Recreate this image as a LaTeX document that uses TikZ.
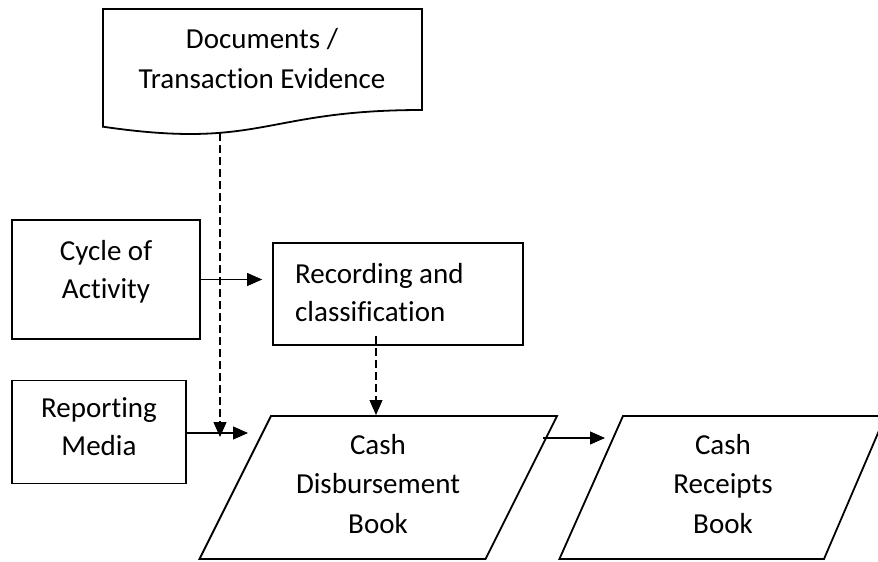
\documentclass[tikz,border=0pt]{standalone}
\usepackage{fontspec}
\setmainfont{Carlito}[Ligatures=NoCommon]
\usetikzlibrary{arrows.meta}
\begin{document}
\begin{tikzpicture}[x=1pt,y=-1pt,
  box/.style={draw, line width=1.8pt, rectangle, inner sep=0pt},
  shp/.style={draw, line width=1.8pt, line join=miter},
  txt/.style={inner sep=0pt, anchor=base, font=\fontsize{29}{38}\selectfont},
  txtd/.style={txt, font=\fontsize{29}{40}\selectfont},
  txtc/.style={txt, font=\fontsize{29}{39.5}\selectfont},
  flow/.style={line width=1.2pt, -{Triangle[length=15pt,width=13pt]}},
  dflow/.style={flow, dash pattern=on 8pt off 4pt}
]
\path[fill=white] (0,0) rectangle (878,562);
\useasboundingbox (0,0) rectangle (878,562);

% Documents / Transaction Evidence
\draw[shp] (103,9) -- (422,9) -- (422,110) .. controls (262.5,110) and (262.5,150) .. (103,126.7) -- cycle;
\coordinate (docb) at (220,133);
\node[txtd] (doct) at (262,48) {\begin{tabular}[t]{@{}c@{}}Documents /\\Transaction Evidence\end{tabular}};

% Cycle of Activity
\node[box, minimum width=188pt, minimum height=119pt] (cyc) at (106,279.5) {};
\node[txt] (cyct) at (106,260) {\begin{tabular}[t]{@{}c@{}}Cycle of\\Activity\end{tabular}};

% Recording and classification
\node[box, minimum width=250pt, minimum height=102pt] (rec) at (398,294) {};
\node[txt, anchor=base west] (rect) at (295,283) {\begin{tabular}[t]{@{}l@{}}Recording and\\classification\end{tabular}};
\coordinate (recd) at (376,336);

% Reporting Media
\node[box, minimum width=174pt, minimum height=103pt] (rep) at (99,432) {};
\node[txt] (rept) at (99,417) {\begin{tabular}[t]{@{}c@{}}Reporting\\Media\end{tabular}};

% Cash Disbursement Book
\coordinate (p1tl) at (271,416);
\coordinate (p1tr) at (557,416);
\coordinate (p1br) at (485.5,559);
\coordinate (p1bl) at (199.5,559);
\draw[shp] (p1tl) -- (p1tr) -- (p1br) -- (p1bl) -- cycle;
\node[txtc] (p1t) at (378,454) {\begin{tabular}[t]{@{}c@{}}Cash\\Disbursement\\Book\end{tabular}};

% Cash Receipts Book
\coordinate (p2tl) at (623,416);
\coordinate (p2tr) at (885.3,416);
\coordinate (p2br) at (824,559);
\coordinate (p2bl) at (559.4,559);
\draw[shp] (p2tl) -- (p2tr) -- (p2br) -- (p2bl) -- cycle;
\node[txtc] (p2t) at (723,454) {\begin{tabular}[t]{@{}c@{}}Cash\\Receipts\\Book\end{tabular}};

% connector end points
\coordinate (dend) at (220,437);
\coordinate (recend) at (376,415);
\coordinate (repend) at (248,433);
\coordinate (p1out) at (543,438);
\coordinate (p2in) at (605,438);

% connectors
\draw[dflow] (docb) -- (dend);
\draw[flow, shorten >=10pt] (cyc.east) -- (cyc.east -| rec.west);
\draw[dflow] (recd) -- (recend);
\draw[flow] (rep.east |- repend) -- (repend);
\draw[flow] (p1out) -- (p2in);
\end{tikzpicture}
\end{document}
